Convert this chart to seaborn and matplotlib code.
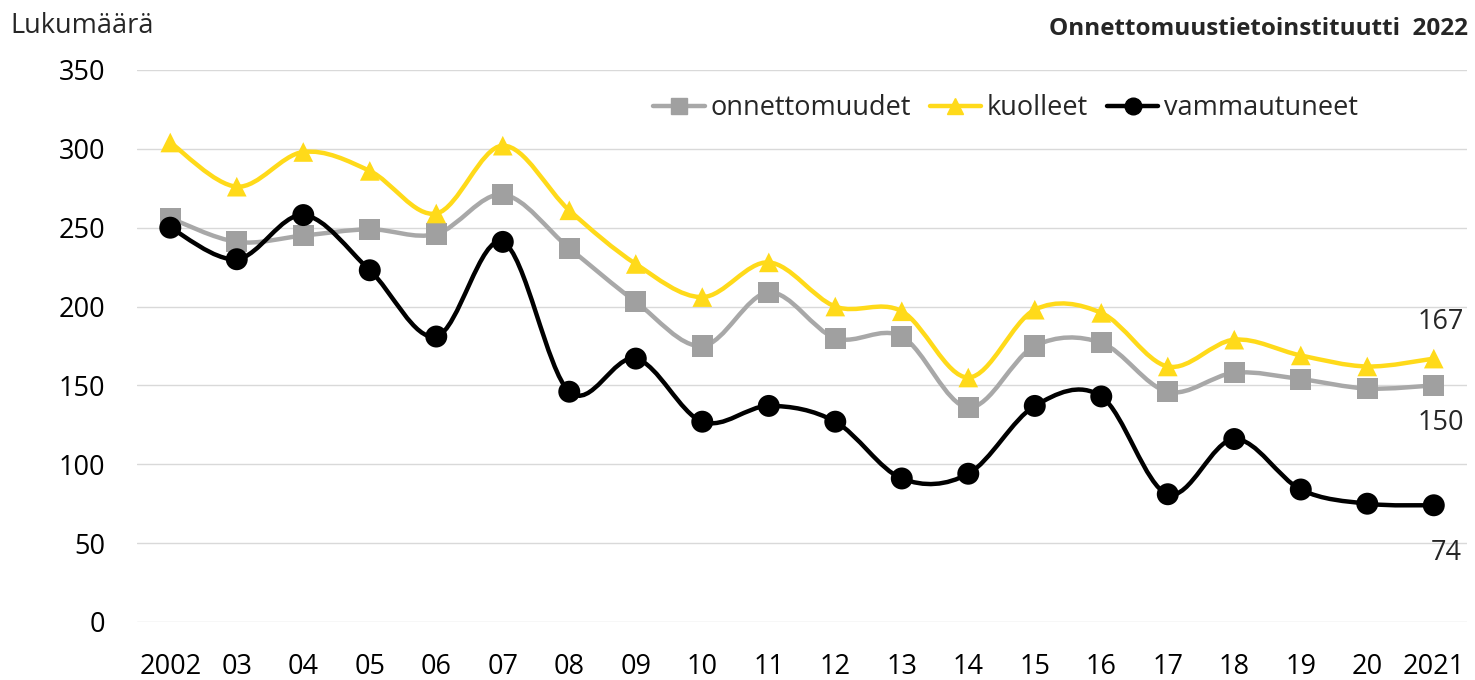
import matplotlib
matplotlib.use("Agg")
import matplotlib.pyplot as plt
import seaborn as sns
import pandas as pd
import numpy as np
from matplotlib.path import Path
from matplotlib.patches import PathPatch
from matplotlib.lines import Line2D

years = ["2002", "03", "04", "05", "06", "07", "08", "09", "10", "11",
         "12", "13", "14", "15", "16", "17", "18", "19", "20", "2021"]
onnettomuudet = [256, 241, 245, 249, 246, 271, 237, 203, 175, 209,
                 180, 181, 136, 175, 177, 146, 158, 154, 148, 150]
kuolleet = [304, 276, 298, 286, 259, 302, 261, 227, 206, 228,
            200, 197, 155, 198, 196, 162, 179, 169, 162, 167]
vammautuneet = [250, 230, 258, 223, 181, 241, 146, 167, 127, 137,
                127, 91, 94, 137, 143, 81, 116, 84, 75, 74]

series_names = ["onnettomuudet", "kuolleet", "vammautuneet"]
series_values = [onnettomuudet, kuolleet, vammautuneet]
colors = {"onnettomuudet": "#A0A0A0", "kuolleet": "#FFDA1A", "vammautuneet": "#000000"}
line_colors = {"onnettomuudet": "#A8A8A8", "kuolleet": "#FFDA1A", "vammautuneet": "#000000"}
markers = {"onnettomuudet": "s", "kuolleet": "^", "vammautuneet": "o"}
msizes = {"onnettomuudet": 230, "kuolleet": 200, "vammautuneet": 250}

df = pd.DataFrame({
    "x": np.tile(np.arange(len(years)), len(series_names)),
    "value": np.concatenate(series_values),
    "series": np.repeat(series_names, len(years)),
})

sns.set_theme(style="white")
plt.rcParams["font.family"] = ["Open Sans", "DejaVu Sans"]
FS = 19.5

fig = plt.figure(figsize=(14.75, 6.8), dpi=100)
ax = fig.add_axes([0.0929, 0.0853, 0.9017, 0.8118])


def smooth_path(xs, ys):
    # Excel-style smoothed line: Catmull-Rom segments as cubic Beziers
    pts = np.column_stack([xs, ys]).astype(float)
    n = len(pts)
    verts = [pts[0]]
    codes = [Path.MOVETO]
    for i in range(n - 1):
        p0 = pts[max(i - 1, 0)]
        p1 = pts[i]
        p2 = pts[i + 1]
        p3 = pts[min(i + 2, n - 1)]
        c1 = p1 + (p2 - p0) / 6.0
        c2 = p2 - (p3 - p1) / 6.0
        verts += [c1, c2, p2]
        codes += [Path.CURVE4] * 3
    return Path(verts, codes)


for name, vals in zip(series_names, series_values):
    patch = PathPatch(smooth_path(np.arange(len(years)), vals), facecolor="none",
                      edgecolor=line_colors[name], lw=3.2, zorder=2, capstyle="round")
    ax.add_patch(patch)
    sub = df[df["series"] == name]
    sns.scatterplot(data=sub, x="x", y="value", marker=markers[name], s=msizes[name],
                    color=colors[name], edgecolor="none", linewidth=0, ax=ax,
                    zorder=3, clip_on=False, legend=False)

ax.set_xlim(-0.5, len(years) - 0.5)
ax.set_ylim(0, 350)
ax.set_yticks(range(0, 351, 50))
ax.set_xticks(np.arange(len(years)))
ax.set_xticklabels(years)
ax.grid(axis="y", color="#D9D9D9", lw=1)
ax.set_axisbelow(True)
for s in ax.spines.values():
    s.set_visible(False)
ax.tick_params(axis="both", length=0, labelsize=FS, colors="#000000")
ax.tick_params(axis="y", pad=23)
ax.tick_params(axis="x", pad=22)
ax.set_xlabel("")
ax.set_ylabel("")

fig.text(0.007, 0.962, "Lukumäärä", fontsize=FS, ha="left", va="center")
fig.text(0.995, 0.958, "Onnettomuustietoinstituutti  2022", fontsize=17.5,
         fontweight="bold", ha="right", va="center")

ax.annotate(str(kuolleet[-1]), (len(years) - 1, kuolleet[-1]), xytext=(5, 26),
            textcoords="offset points", ha="center", va="center", fontsize=FS)
ax.annotate(str(onnettomuudet[-1]), (len(years) - 1, onnettomuudet[-1]), xytext=(5, -27),
            textcoords="offset points", ha="center", va="center", fontsize=FS)
ax.annotate(str(vammautuneet[-1]), (len(years) - 1, vammautuneet[-1]), xytext=(9, -34),
            textcoords="offset points", ha="center", va="center", fontsize=FS)

handles = [Line2D([], [], color=line_colors[n], lw=3.2, marker=markers[n],
                  markersize=12, markerfacecolor=colors[n], markeredgecolor=colors[n])
           for n in series_names]
ax.legend(handles, series_names, loc="center", bbox_to_anchor=(0.653, 0.931), ncol=3,
          frameon=False, fontsize=FS, handlelength=1.9, handletextpad=0.2,
          columnspacing=0.7)

fig.savefig("out.png", dpi=100)
